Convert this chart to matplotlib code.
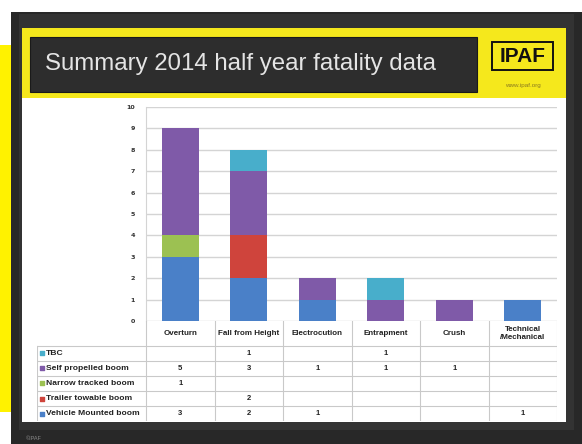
import matplotlib
matplotlib.use("Agg")
import matplotlib.pyplot as plt
import numpy as np
from matplotlib.patches import Rectangle

# data
categories = ["Overturn", "Fall from Height", "Electrocution", "Entrapment", "Crush", "Technical\n/Mechanical"]
series_names = ["TBC", "Self propelled boom", "Narrow tracked boom", "Trailer towable boom", "Vehicle Mounted boom"]
tbc = [0, 1, 0, 1, 0, 0]
self_propelled = [5, 3, 1, 1, 1, 0]
narrow_tracked = [1, 0, 0, 0, 0, 0]
trailer_towable = [0, 2, 0, 0, 0, 0]
vehicle_mounted = [3, 2, 1, 0, 0, 1]
colors = ["#48AECB", "#7F5AA8", "#9CC152", "#CF443C", "#4A80C8"]
yticks = list(range(0, 11))

W, H = 582, 444
plt.rcParams['font.family'] = ['Liberation Sans', 'DejaVu Sans']
fig = plt.figure(figsize=(W / 100, H / 100), dpi=100)
fig.patch.set_facecolor("white")


def rect(x0, y0, x1, y1, color, **kw):
    # pixel box -> figure fraction
    fig.patches.append(Rectangle((x0 / W, 1 - y1 / H), (x1 - x0) / W, (y1 - y0) / H,
                                 transform=fig.transFigure, facecolor=color, zorder=-5, **kw))


def ftext(x, y, s, **kw):
    fig.text(x / W, 1 - y / H, s, **kw)


# photo surroundings
rect(11, 12, 582, 444, "#282828", edgecolor="none")
rect(0, 45, 11, 412, "#FFF200", edgecolor="none")
rect(19, 14, 574, 430, "#333333", edgecolor="none")
# slide
rect(22, 28, 566, 422, "white", edgecolor="none")
rect(22, 28, 566, 98, "#F5E81C", edgecolor="none")
rect(30, 37, 477, 92, "#2d2d2d", edgecolor="#1a1a1a", linewidth=0.8)
ftext(45, 64, "Summary 2014 half year fatality data", fontsize=17.3, color="#e4e4e4",
      va="center", ha="left")
rect(492, 42, 553, 70, "none", edgecolor="#111111", linewidth=1.4)
ftext(522.5, 56.5, "IPAF", fontsize=15, fontweight="bold", color="#111111", ha="center", va="center")
ftext(522.5, 85, "www.ipaf.org", fontsize=4.5, color="#8a7a20", ha="center", va="center")
ftext(26, 438, "©IPAF", fontsize=4, color="#888888", ha="left", va="center")

# chart
left, right, top, zero = 146, 557, 107, 321
ax = fig.add_axes([left / W, 1 - zero / H, (right - left) / W, (zero - top) / H])
x = np.arange(len(categories))
stack = [(vehicle_mounted, colors[4]), (trailer_towable, colors[3]), (narrow_tracked, colors[2]),
         (self_propelled, colors[1]), (tbc, colors[0])]
bottom = np.zeros(len(categories))
for vals, c in stack:
    ax.bar(x, vals, 0.54, bottom=bottom, color=c, zorder=3)
    bottom += np.array(vals)
ax.set_xlim(-0.5, len(categories) - 0.5)
ax.set_ylim(0, 10)
ax.set_yticks(yticks)
ax.set_yticklabels([str(v) for v in yticks], fontsize=4.6, fontweight="bold", color="#333333",
                   family="DejaVu Sans")
ax.set_xticks([])
ax.tick_params(axis="y", length=0, pad=8)
ax.grid(axis="y", color="#d4d4d4", linewidth=1, zorder=0)
for s in ["top", "right", "bottom"]:
    ax.spines[s].set_visible(False)
ax.spines["left"].set_color("#d4d4d4")
ax.set_facecolor("none")

# data table under the chart
tax = fig.add_axes([37 / W, 1 - 421 / H, (right - 37) / W, (421 - zero) / H])
tax.set_xlim(37, right)
tax.set_ylim(421, zero)
tax.axis("off")
col_w = (right - left) / len(categories)
head_bottom = 346
row_h = 15
lc = "#c9c9c9"
for i in range(len(categories) + 1):
    tax.plot([left + i * col_w] * 2, [zero, 421], color=lc, lw=0.8)
tax.plot([37, 37], [head_bottom, 421], color=lc, lw=0.8)
for r in range(len(series_names) + 1):
    yy = head_bottom + r * row_h
    tax.plot([37, right], [yy, yy], color=lc, lw=0.8)
for i, cat in enumerate(categories):
    tax.text(left + (i + 0.5) * col_w, (zero + head_bottom) / 2, cat, fontsize=5.8,
             fontweight="bold", color="#222222", ha="center", va="center", linespacing=1.2)
table_vals = [tbc, self_propelled, narrow_tracked, trailer_towable, vehicle_mounted]
for r, (name, vals) in enumerate(zip(series_names, table_vals)):
    yc = head_bottom + (r + 0.5) * row_h
    tax.scatter([42], [yc], marker="s", s=5, color=colors[r])
    tax.text(46, yc, name, fontsize=6.1, fontweight="bold", color="#222222", ha="left", va="center")
    for i, v in enumerate(vals):
        if v:
            tax.text(left + (i + 0.5) * col_w, yc, str(v), fontsize=5.5, fontweight="bold",
                     color="#222222", ha="center", va="center")

fig.savefig("out.png", dpi=100)
